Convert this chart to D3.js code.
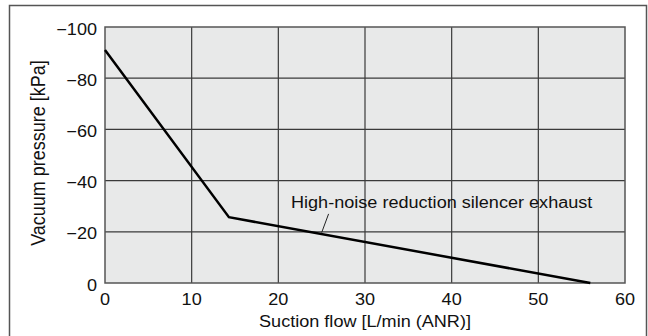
<!DOCTYPE html>
<html>
<head>
<meta charset="utf-8">
<script src="https://cdn.jsdelivr.net/npm/d3@7"></script>
<style>
  body { margin: 0; background: #fff; }
  svg { display: block; font-family: "Liberation Sans", Arial, sans-serif; }
</style>
</head>
<body>
<div id="chart"></div>
<script>
// curve (flow L/min, pressure kPa)
var flow = [0, 14.3, 56];
var pressure = [-91, -25.7, 0];
var xTicks = [0, 10, 20, 30, 40, 50, 60];
var yTicks = [0, -20, -40, -60, -80, -100];
var seriesLabel = "High-noise reduction silencer exhaust";

var width = 648, height = 336;
var margin = { top: 27, right: 23, bottom: 53, left: 105 };
var sx = 1.13; // original text looks a bit wide

var svg = d3.select('#chart')
    .append('svg')
    .attr('width', width)
    .attr('height', height);

// outer frame (bottom runs off the picture)
svg.append('path')
    .attr('d', 'M9.5,340 V5.5 H646.5 V340')
    .attr('fill', 'none')
    .attr('stroke', '#555')
    .attr('stroke-width', 1.5);

var x = d3.scaleLinear().domain([0, 60]).range([margin.left, width - margin.right]);
var y = d3.scaleLinear().domain([0, -100]).range([height - margin.bottom, margin.top]);

svg.append('rect')
    .attr('x', x(0)).attr('y', y(-100))
    .attr('width', x(60) - x(0)).attr('height', y(0) - y(-100))
    .attr('fill', '#e8e9e9');

// grid
var g = svg.append('g');
g.selectAll('line.vx')
    .data(xTicks.slice(1, -1))
    .enter().append('line')
    .attr('x1', function(d) { return x(d); }).attr('x2', function(d) { return x(d); })
    .attr('y1', y(-100)).attr('y2', y(0))
    .attr('stroke', '#3a3a3a').attr('stroke-width', 1.2);
g.selectAll('line.hy')
    .data(yTicks.slice(1, -1))
    .enter().append('line')
    .attr('x1', x(0)).attr('x2', x(60))
    .attr('y1', function(d) { return y(d); }).attr('y2', function(d) { return y(d); })
    .attr('stroke', '#3a3a3a').attr('stroke-width', 1.2);

svg.append('rect')
    .attr('x', x(0)).attr('y', y(-100))
    .attr('width', x(60) - x(0)).attr('height', y(0) - y(-100))
    .attr('fill', 'none')
    .attr('stroke', '#555').attr('stroke-width', 1.5);

// tick labels
svg.selectAll('text.xt')
    .data(xTicks)
    .enter().append('text')
    .attr('transform', function(d) { return 'translate(' + x(d) + ',' + (y(0) + 22) + ') scale(' + sx + ',1)'; })
    .attr('text-anchor', 'middle')
    .attr('font-size', 16)
    .attr('fill', '#111')
    .text(function(d) { return d; });

svg.selectAll('text.yt')
    .data(yTicks)
    .enter().append('text')
    .attr('transform', function(d) { return 'translate(' + (x(0) - 8) + ',' + (y(d) + 7.5) + ') scale(' + sx + ',1)'; })
    .attr('text-anchor', 'end')
    .attr('font-size', 16)
    .attr('fill', '#111')
    .text(function(d) { return d === 0 ? '0' : '\u2212' + Math.abs(d); });

// axis titles
svg.append('text')
    .attr('transform', 'translate(' + ((x(0) + x(60)) / 2) + ',327) scale(' + sx + ',1)')
    .attr('text-anchor', 'middle')
    .attr('font-size', 16)
    .attr('fill', '#111')
    .text('Suction flow [L/min (ANR)]');

svg.append('text')
    .attr('transform', 'translate(45,153) scale(1.1,1) rotate(-90)')
    .attr('text-anchor', 'middle')
    .attr('font-size', 18)
    .attr('fill', '#111')
    .text('Vacuum pressure [kPa]');

// curve
var line = d3.line()
    .x(function(d) { return x(d[0]); })
    .y(function(d) { return y(d[1]); });

svg.append('path')
    .datum(d3.zip(flow, pressure))
    .attr('d', line)
    .attr('fill', 'none')
    .attr('stroke', '#000')
    .attr('stroke-width', 2.5)
    .attr('stroke-linejoin', 'miter');

// label + leader
svg.append('line')
    .attr('x1', x(25.8)).attr('y1', y(-27))
    .attr('x2', x(25)).attr('y2', y(-19.7))
    .attr('stroke', '#222').attr('stroke-width', 1);

svg.append('text')
    .attr('transform', 'translate(291,208) scale(' + sx + ',1)')
    .attr('font-size', 16)
    .attr('fill', '#111')
    .text(seriesLabel);
</script>
</body>
</html>
